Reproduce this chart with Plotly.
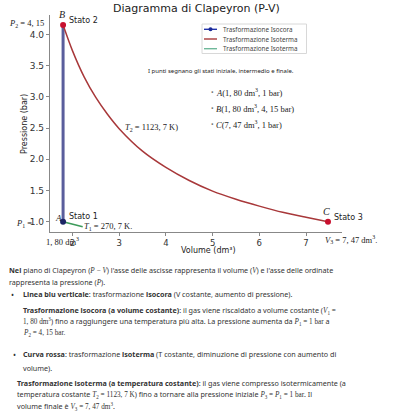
import plotly.graph_objects as go

W, H = 400, 416

# ---- data ----
V1, P1 = 1.80, 1.00
P2 = 4.15
V3, P3 = 7.47, 1.00

iso_V = [V1, V1]
iso_P = [P1, P2]

# isotherm T2
red_V = [1.80, 2.00, 2.25, 2.50, 2.75, 3.00, 3.50, 4.00, 4.50, 5.00, 5.50, 6.00, 6.50, 7.00, 7.47]
red_P = [4.15, 3.74, 3.32, 2.99, 2.72, 2.49, 2.13, 1.87, 1.66, 1.49, 1.36, 1.25, 1.15, 1.07, 1.00]

# short green isotherm T1
grn_V = [1.80, 2.00, 2.22]
grn_P = [1.00, 0.96, 0.92]

x_ticks = [2, 3, 4, 5, 6, 7]
y_ticks = [1.0, 1.5, 2.0, 2.5, 3.0, 3.5, 4.0]

BLUE = '#5a5e9c'
RED = '#a8383a'
GREEN = '#3d9b5a'
SANS = 'DejaVu Sans'
SERIF = 'Liberation Serif'
BODY = 'Noto Sans'

fig = go.Figure()
fig.add_trace(go.Scatter(x=iso_V, y=iso_P, mode='lines', line=dict(color=BLUE, width=3), showlegend=False))
fig.add_trace(go.Scatter(x=grn_V, y=grn_P, mode='lines', line=dict(color=GREEN, width=1.6), showlegend=False))
fig.add_trace(go.Scatter(x=red_V, y=red_P, mode='lines', line=dict(color=RED, width=1.5, shape='spline', smoothing=0.8),
                         showlegend=False))
fig.add_trace(go.Scatter(x=[V1], y=[P1], mode='markers', marker=dict(color='#1c2566', size=6), showlegend=False))
fig.add_trace(go.Scatter(x=[V1, V3], y=[P2, P3], mode='markers', marker=dict(color='#c8102e', size=6), showlegend=False))

def px(x):
    return x / W

def py(y):
    return 1 - y / H

fig.update_layout(
    width=W, height=H, margin=dict(l=0, r=0, t=0, b=0),
    paper_bgcolor='white', plot_bgcolor='white',
    xaxis=dict(domain=[px(50), px(342)], range=[1.52, 7.77], showgrid=False, zeroline=False,
               showline=True, linecolor='#888', linewidth=1.2, ticks='outside', ticklen=3, tickcolor='#888',
               tickvals=x_ticks, ticktext=[str(t) for t in x_ticks],
               tickfont=dict(family=SANS, size=8.5, color='#333')),
    yaxis=dict(domain=[py(231.7), py(15)], range=[0.84, 4.31], showgrid=False, zeroline=False,
               showline=True, linecolor='#888', linewidth=1.2, ticks='outside', ticklen=3, tickcolor='#888',
               tickvals=y_ticks, ticktext=[f'{t:.1f}' for t in y_ticks],
               tickfont=dict(family=SANS, size=9, color='#333')),
)

def txt(s, x, y, size=8, fam=SANS, xa='left', color='#333', angle=0):
    fig.add_annotation(x=px(x), y=py(y), xref='paper', yref='paper', text=s, showarrow=False,
                       xanchor=xa, yanchor='middle', textangle=angle,
                       font=dict(size=size, family=fam, color=color), borderpad=0)

def dtxt(s, x, y, dx, dy, size=8, fam=SANS, xa='left', color='#333'):
    fig.add_annotation(x=x, y=y, xref='x', yref='y', text=s, showarrow=False,
                       xanchor=xa, yanchor='middle', xshift=dx, yshift=dy,
                       font=dict(size=size, family=fam, color=color), borderpad=0)

def M(s):
    return f'<span style="font-family:{SERIF}">{s}</span>'

# title & axis titles
txt('Diagramma di Clapeyron (P-V)', 196, 8, size=11, xa='center', color='#222')
txt('Volume (dm³)', 208, 250, size=8, xa='center', color='#222')
txt('Pressione (bar)', 24, 124, size=8, xa='center', color='#222', angle=-90)

# point labels
dtxt('<i>B</i>', V1, P2, -1, 10, size=10, fam=SERIF, xa='center', color='#222')
dtxt('Stato 2', V1, P2, 5, 4, size=8, color='#222')
txt('<i>P</i><sub>2</sub> = 4, 15', 45, 23, size=8.5, fam=SERIF, xa='right', color='#222')
dtxt('<i>A</i>', V1, P1, -5, 4, size=9, fam=SERIF, xa='center', color='#222')
dtxt('Stato 1', V1, P1, 5, 5, size=8, color='#222')
txt('<i>P</i><sub>1</sub> =', 33, 223, size=8.5, fam=SERIF, xa='right', color='#222')
txt('<i>T</i><sub>1</sub> = 270, 7 K.', 83, 227, size=8.5, fam=SERIF, color='#222')
txt('<i>T</i><sub>2</sub> = 1123, 7 K)', 124, 127, size=8.5, fam=SERIF, color='#222')
dtxt('<i>C</i>', V3, P3, -1, 10, size=10, fam=SERIF, xa='center', color='#222')
dtxt('Stato 3', V3, P3, 5, 4, size=8, color='#222')
txt('<i>V</i><sub>3</sub> = 7, 47 dm<sup>3</sup>.', 324, 240, size=8.5, fam=SERIF, color='#222')
txt('1, 80 dm<sup>3</sup>', 45, 241, size=8.5, fam=SERIF, color='#222')

# in-plot note
txt('I punti segnano gli stati iniziale, intermedio e finale.', 147, 71, size=6, fam=BODY, color='#222')
bul = [('<i>A</i>(1, 80 dm<sup>3</sup>, 1 bar)', 92.7),
       ('<i>B</i>(1, 80 dm<sup>3</sup>, 4, 15 bar)', 108.3),
       ('<i>C</i>(7, 47 dm<sup>3</sup>, 1 bar)', 124)]
for s, y in bul:
    txt('•', 210, y, size=7, fam=BODY, color='#777')
    txt(s, 215, y, size=8.5, fam=SERIF, color='#222')

# manual legend
fig.add_shape(type='rect', xref='paper', yref='paper', x0=px(202), x1=px(306.5), y0=py(53.5), y1=py(24),
              line=dict(color='#d8d8d8', width=1), fillcolor='white')
leg = [('Trasformazione Isocora', BLUE, True, 29.3), ('Trasformazione Isoterma', RED, False, 39),
       ('Trasformazione Isoterma', '#6fb89a', False, 48.7)]
for name, c, mk, y in leg:
    fig.add_shape(type='line', xref='paper', yref='paper', x0=px(204), x1=px(217), y0=py(y), y1=py(y),
                  line=dict(color='#2233aa' if mk else c, width=1.4))
    if mk:
        fig.add_shape(type='circle', xref='paper', yref='paper', x0=px(208.5), x1=px(212.5),
                      y0=py(y + 2), y1=py(y - 2), line=dict(color='#1a2a99', width=0), fillcolor='#1a2a99')
    txt(name, 222, y, size=6.3, fam=BODY, color='#444')

# body text
T = '#333'
lines = [
    ('<b>Nel</b> piano di Clapeyron (' + M('<i>P</i> − <i>V</i>') + ") l'asse delle ascisse rappresenta il volume ("
     + M('<i>V</i>') + ") e l'asse delle ordinate", 8, 270),
    ('rappresenta la pressione (' + M('<i>P</i>') + ').', 8, 282),
    ('<b>Linea blu verticale</b>: trasformazione <b>isocora</b> (V costante, aumento di pressione).', 21.5, 294),
    ('<b>Trasformazione isocora (a volume costante)</b>: il gas viene riscaldato a volume costante ('
     + M('<i>V</i><sub>1</sub> ='), 21.5, 310),
    (M('1, 80 dm<sup>3</sup>') + ') fino a raggiungere una temperatura più alta. La pressione aumenta da '
     + M('<i>P</i><sub>1</sub> = 1 bar') + ' a', 21.5, 321.5),
    (M('<i>P</i><sub>2</sub> = 4, 15 bar.'), 21.5, 333),
    ('<b>Curva rossa</b>: trasformazione <b>isoterma</b> (T costante, diminuzione di pressione con aumento di',
     21.5, 354),
    ('volume).', 21.5, 368),
    ('<b>Trasformazione isoterma (a temperatura costante)</b>: il gas viene compresso isotermicamente (a', 16, 383),
    ('temperatura costante ' + M('<i>T</i><sub>2</sub> = 1123, 7 K') + ') fino a tornare alla pressione iniziale '
     + M('<i>P</i><sub>3</sub> = <i>P</i><sub>1</sub> = 1 bar') + '. Il', 16, 394),
    ('volume finale è ' + M('<i>V</i><sub>3</sub> = 7, 47 dm<sup>3</sup>') + '.', 16, 406),
]
for s, x, y in lines:
    txt(s, x, y, size=7.2, fam=BODY, color=T)
txt('•', 10, 294, size=8, fam=BODY, color=T)
txt('•', 12, 354, size=8, fam=BODY, color=T)

fig.write_html('out.html', config={'displayModeBar': False},
               post_script="document.body.style.margin='0px';document.body.style.overflow='hidden';")
